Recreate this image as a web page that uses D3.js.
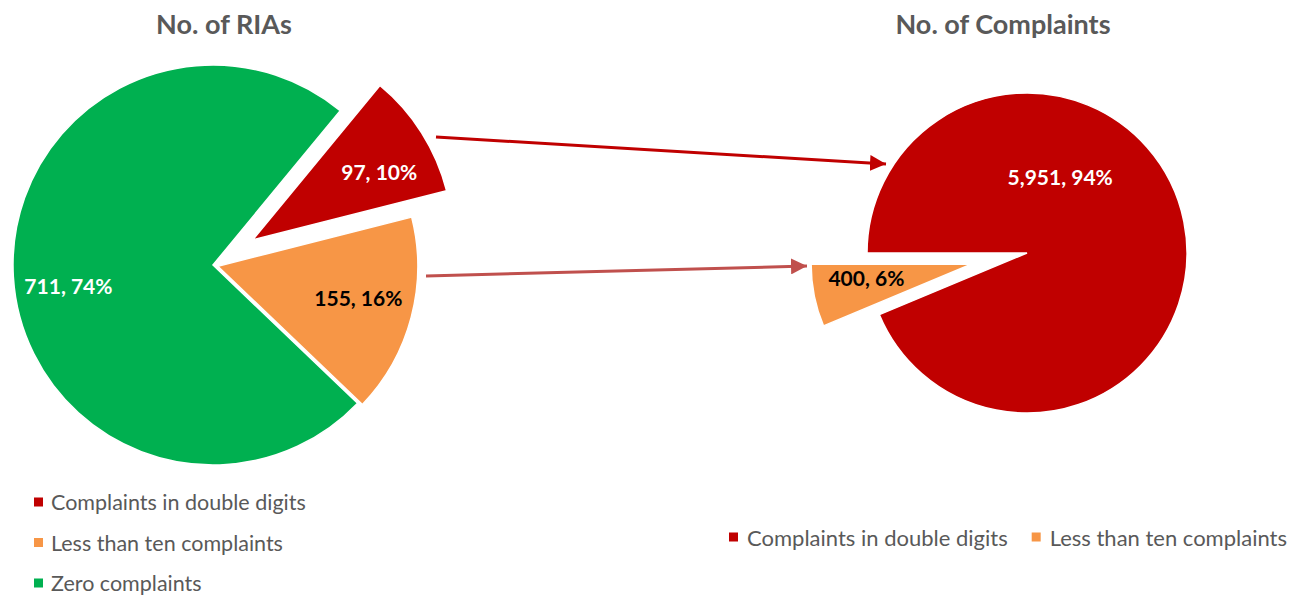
<!DOCTYPE html>
<html><head><meta charset="utf-8">
<script src="https://cdn.jsdelivr.net/npm/d3@7"></script>
<style>
html,body{margin:0;padding:0;background:#fff;}
svg{display:block;font-family:Lato,"Open Sans",sans-serif;}
</style></head>
<body><svg id="c" width="1294" height="597"></svg>
<script>
// ---- data ----
const leftTitle = "No. of RIAs";
const rightTitle = "No. of Complaints";
const leftCategories = ["Complaints in double digits", "Less than ten complaints", "Zero complaints"];
const leftValues = [97, 155, 711];
const rightCategories = ["Complaints in double digits", "Less than ten complaints"];
const rightValues = [5951, 400];

// ---- styles / layout ----
const colors = ["#c00000", "#f79646", "#00b050"];
const labelColors = ["#ffffff", "#000000", "#ffffff"];
const grey = "#595959";
const deg = Math.PI / 180;

const svg = d3.select("#c");

function drawPie(cfg) {
  const pie = d3.pie().sort(null).value(d => d)
    .startAngle(cfg.start * deg).endAngle(cfg.start * deg + 2 * Math.PI);
  const arcs = pie(cfg.values);
  const total = d3.sum(cfg.values);
  const arc = d3.arc().innerRadius(0).outerRadius(cfg.r);
  const g = svg.append("g").attr("transform", `translate(${cfg.cx},${cfg.cy})`);
  arcs.forEach((a, i) => {
    const mid = (a.startAngle + a.endAngle) / 2;
    const off = cfg.explode[i];
    const dx = Math.sin(mid) * off, dy = -Math.cos(mid) * off;
    const sg = g.append("g").attr("transform", `translate(${dx},${dy})`);
    sg.append("path").attr("d", arc(a)).attr("fill", colors[i])
      .attr("stroke", "#fff").attr("stroke-width", 1.5).attr("stroke-linejoin", "miter");
    const lp = cfg.labelPos[i];
    const la = lp[0] * deg, lr = lp[1] * cfg.r;
    const pct = d3.format(".0%")(cfg.values[i] / total);
    sg.append("text")
      .attr("x", Math.sin(la) * lr).attr("y", -Math.cos(la) * lr)
      .attr("text-anchor", "middle").attr("dominant-baseline", "central")
      .attr("font-weight", "bold").attr("font-size", 21)
      .attr("fill", labelColors[i])
      .text(d3.format(",")(cfg.values[i]) + ", " + pct);
  });
}

drawPie({ values: leftValues, cx: 213, cy: 265, r: 200, start: 39.5,
  explode: [47, 5, 0], labelPos: [[61.5, 0.72], [102.6, 0.72], [262, 0.73]] });
drawPie({ values: rightValues, cx: 1027, cy: 253, r: 160, start: -90,
  explode: [0, 57], labelPos: [[23.5, 0.52], [262.6, 0.66]] });

// titles
svg.append("text").attr("x", 224).attr("y", 34).attr("text-anchor", "middle")
  .attr("font-weight", "bold").attr("font-size", 27).attr("fill", grey).text(leftTitle);
svg.append("text").attr("x", 1003).attr("y", 34).attr("text-anchor", "middle")
  .attr("font-weight", "bold").attr("font-size", 27).attr("fill", grey).text(rightTitle);

// arrows
const defs = svg.append("defs");
function marker(id, col) {
  defs.append("marker").attr("id", id).attr("viewBox", "0 0 10 10")
    .attr("refX", 10).attr("refY", 5).attr("markerUnits", "userSpaceOnUse")
    .attr("markerWidth", 16).attr("markerHeight", 16).attr("orient", "auto")
    .append("path").attr("d", "M0,0L10,5L0,10Z").attr("fill", col);
}
marker("a1", "#c00000");
marker("a2", "#c0504d");
svg.append("line").attr("x1", 436).attr("y1", 137).attr("x2", 886).attr("y2", 164)
  .attr("stroke", "#c00000").attr("stroke-width", 3).attr("marker-end", "url(#a1)");
svg.append("line").attr("x1", 426).attr("y1", 276).attr("x2", 807).attr("y2", 266)
  .attr("stroke", "#c0504d").attr("stroke-width", 3).attr("marker-end", "url(#a2)");

// left legend (vertical)
const ll = svg.append("g");
leftCategories.forEach((c, i) => {
  const y = 502 + i * 40.5;
  ll.append("rect").attr("x", 34).attr("y", y - 4.5).attr("width", 9).attr("height", 9).attr("fill", colors[i]);
  ll.append("text").attr("x", 51).attr("y", y).attr("dominant-baseline", "central")
    .attr("font-size", 21.5).attr("fill", grey).text(c);
});
// right legend (horizontal)
const rl = svg.append("g");
let xPos = 729;
rightCategories.forEach((c, i) => {
  const y = 537;
  rl.append("rect").attr("x", xPos).attr("y", y - 4.5).attr("width", 9).attr("height", 9).attr("fill", colors[i]);
  const t = rl.append("text").attr("x", xPos + 18).attr("y", y).attr("dominant-baseline", "central")
    .attr("font-size", 22).attr("fill", grey).text(c);
  xPos += 18 + t.node().getComputedTextLength() + 24;
});
</script></body></html>
